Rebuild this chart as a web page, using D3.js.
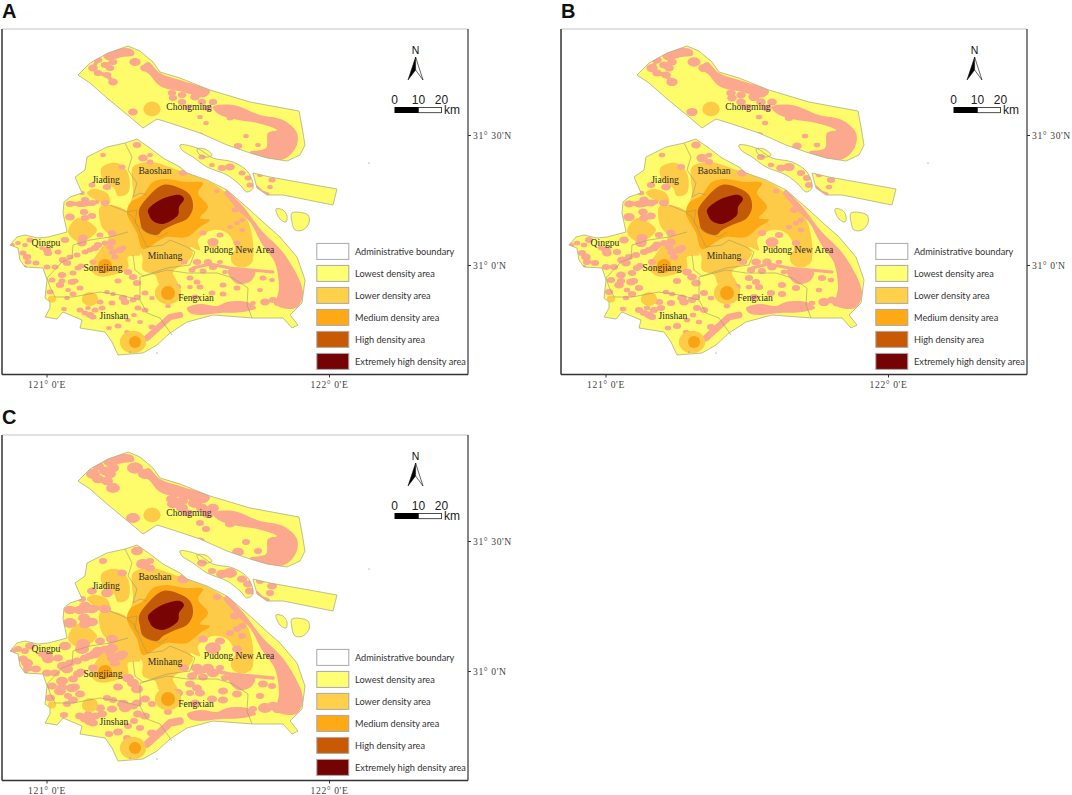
<!DOCTYPE html>
<html><head><meta charset="utf-8">
<script src="https://cdn.jsdelivr.net/npm/d3@7/dist/d3.min.js"></script>
<style>html,body{margin:0;padding:0;background:#fff}svg{display:block}</style>
</head><body><svg id="c" width="1072" height="795"></svg>
<script>
const panels=[{name:"A",dx:0,dy:0,grow:1.12},{name:"B",dx:559,dy:0,grow:1.3},{name:"C",dx:0,dy:406,grow:1.6}];
const legendItems=[["Administrative boundary","#ffffff"],["Lowest density area","#FFFF73"],["Lower density area","#FFD04A"],["Medium density area","#FFAA14"],["High density area","#C85A06"],["Extremely high density area","#750303"]];
const districtLabels=[["Chongming",189,107],["Baoshan",155,170.5],["Jiading",106,179.5],["Qingpu",46,243],["Songjiang",103,268],["Minhang",165,256],["Pudong New Area",239,250],["Fengxian",196,298],["Jinshan",114,316]];
const lonTicks=[121,122], latTicks=[31,31.5];
// land outlines, map units
const chongming=[[78,75],[90,63],[108,53],[128,46],[140,51],[153,62],[160,72],[180,78],[210,90],[250,102],[299,111],[302,127],[305,145],[300,155],[287,161],[267,158],[250,153],[227,145],[200,133],[173,124],[157,119],[143,128],[130,117],[107,98],[90,83]];
const mainland=[[125,143],[137,139],[150,148],[163,158],[180,167],[187,173],[207,180],[227,190],[250,210],[263,222],[280,237],[297,257],[305,280],[302,303],[290,315],[298,325],[292,328],[283,318],[253,318],[213,315],[187,322],[170,333],[157,345],[143,353],[118,355],[112,342],[105,332],[80,328],[82,320],[70,315],[63,312],[57,319],[45,317],[50,308],[50,302],[45,298],[47,280],[43,268],[25,267],[20,260],[18,248],[10,245],[17,237],[25,235],[38,238],[48,237],[67,232],[63,213],[64,202],[70,197],[82,193],[75,177],[85,170],[87,157],[107,147]];
const changxing=[[180,145],[197,148],[213,158],[233,162],[248,172],[253,188],[247,192],[240,185],[227,175],[207,167],[193,157],[182,150]];
const islet=[[197,149],[205,149],[212,155],[208,157],[200,155]];
const hengsha=[[253,173],[270,177],[337,189],[333,205],[313,201],[283,195],[267,195],[257,188]];
const shoalA=[[276,209],[283,210],[287,216],[286,222],[280,219]];
const shoalB=[[292,213],[308,215],[309,223],[303,230],[295,230],[292,222]];
const lands=[chongming,mainland,changxing,islet,hengsha,shoalA,shoalB];
// density zones
const lowerZones=[
[[133,167],[150,162],[183,172],[210,182],[225,192],[242,210],[250,227],[253,243],[252,260],[240,267],[232,262],[235,247],[227,233],[213,230],[198,240],[200,250],[190,247],[193,253],[187,262],[173,272],[178,285],[160,285],[155,275],[143,270],[142,255],[128,240],[130,205],[133,193],[132,180]],
[[102,167],[117,163],[128,173],[128,193],[118,196],[114,188],[105,182],[101,175]],
[[87,193],[93,189],[107,193],[110,203],[100,202]],
[[100,207],[110,205],[128,212],[135,232],[110,234],[102,227]],
[[90,268],[100,250],[108,240],[110,232],[128,232],[140,250],[140,255],[128,257],[128,268],[113,275],[98,276]],
[[68,232],[78,218],[97,230],[80,242]]];
const lowerSpots=[[152,109,8.5],[168,293,13],[133,342,13],[242,258,11],[90,299,8],[52,299,4],[213,244,5]];
const mediumZone=[[143,195],[153,182],[166,179],[185,182],[203,183],[198,193],[208,207],[200,218],[210,220],[200,227],[187,237],[167,237],[160,240],[143,249],[137,233],[127,213],[130,203],[140,197]];
const mediumSpots=[[105,266,7],[168,293,7],[135,342,6]];
const highZone=[[139,210],[147,198],[163,185],[177,187],[190,195],[193,207],[188,218],[173,225],[163,230],[157,235],[143,230],[140,220]];
const extremeZone=[[148,210],[160,200],[180,195],[184,199],[179,207],[178,215],[163,224],[153,221],[149,215]];
// scattered settlement patches (x,y,radius)
const patches=[[70,217,3.5],[84,212,3],[85,218,3],[92,216,3],[70,204,3],[80,204,3],[92,203,3],[105,203,3],[85,200,3],[65,240,3],[83,238,3.5],[82,243,3.5],[98,245,3],[105,243,2.5],[95,248,3],[100,235,2.5],[112,233,3],[30,240,2.5],[18,243,2],[12,245,2],[25,245,2],[47,250,3],[48,253,3],[42,248,2],[58,252,2.5],[23,253,2.5],[27,257,3],[28,262,2.5],[36,263,2.5],[24,267,2],[47,267,2.5],[55,267,2.5],[63,260,3],[67,263,3],[70,257,2.5],[77,255,2.5],[85,252,2.5],[90,250,2.5],[78,268,2.5],[81,266,2.5],[62,275,3],[73,273,2.5],[52,280,2.5],[60,285,3],[62,281,2.5],[72,282,3],[75,281,2.5],[68,290,2],[80,288,2.5],[50,292,2.5],[73,294,2.5],[67,298,2],[80,310,2.5],[64,309,2],[85,313,2.5],[90,315,3],[95,310,2.5],[102,308,2.5],[100,302,2.5],[93,317,2.5],[88,308,2],[112,303,2.5],[107,292,2],[113,294,2],[123,298,3],[125,302,3],[133,300,2.5],[118,281,2.5],[128,272,3],[133,277,3],[113,252,3],[120,250,3],[123,248,2.5],[115,257,2.5],[93,262,2.5],[109,328,2],[118,326,2.5],[127,332,2],[112,242,3],[110,247,2.5],[128,320,2],[140,322,2],[134,315,2],
[177,287,3],[173,292,2.5],[190,278,2.5],[197,282,2.5],[200,287,2.5],[190,287,2],[223,285,2.5],[223,294,2.5],[212,293,2.5],[237,288,2.5],[195,297,2.5],[263,278,2.5],[272,280,2],[260,290,2],[265,302,3.5],[253,303,2],[137,283,3],[137,297,2.5],[145,293,2.5],[152,298,2],[168,306,2],[138,308,2.5],[145,310,2.5],[152,327,2.5],[273,300,3],[278,303,3],[184,262,2.5],[192,270,2.5],[203,271,2.5],[213,267,3],[220,262,2],[225,272,2],
[213,242,4],[220,235,2.5],[203,233,2.5],[230,227,2],[237,223,2],[242,230,2],[242,220,2],[235,210,2.5],[217,191,2],[240,252,3],[237,243,2.5],[197,262,3],[208,262,3],
[135,62,4],[98,60,3],[93,68,3.5],[98,73,3],[105,65,3],[113,62,3],[107,75,3],[113,82,3.5],[110,68,3],[145,68,3.5],[133,112,3.5],[172,93,3],[173,98,3],[182,95,3],[182,102,3],[195,97,3.5],[202,102,3],[213,102,3],[188,107,2.5],[208,108,3],[200,117,2],[206,123,2],[200,135,2.5],[230,118,2.5],[238,146,3],[246,136,2],[258,145,2],[137,145,3],[143,158,3.5],[150,162,2.5],[150,155,2],[103,155,2],[122,167,2.5],[107,187,3],[92,185,2.5],[82,193,2],[183,173,3],
[202,157,2.5],[212,165,2],[222,168,3],[230,167,3.5],[242,173,2.5],[248,178,2.5],[250,185,2.5],[260,175,2],[272,180,2.5],[270,187,2]];
// ribbon-like patches (path, width)
const ribbons=[[[[70,203],[83,205],[97,202]],4],[[[193,268],[210,264],[230,268],[273,272]],2.8],[[[180,315],[170,317],[158,328],[147,338]],6],[[[227,193],[240,208]],5],[[[257,187],[262,192],[268,194]],3],[[[93,68],[98,73],[107,75],[113,82]],3.5],[[[98,60],[93,68]],3.5],[[[105,65],[113,62]],3]];
const pinkAreas=[
[[225,191],[240,203],[262,231],[285,255],[303,293],[296,308],[277,305],[279,287],[275,263],[262,244],[250,222],[236,208]],
[[213,107],[233,105],[260,115],[283,120],[297,133],[296,147],[284,159],[263,159],[250,152],[266,148],[268,133],[277,130],[257,123],[233,119],[217,113]],
[[148,62],[160,73],[183,81],[210,91],[205,97],[183,92],[160,86],[150,75],[142,68]],
[[103,55],[120,48],[133,50],[134,55],[123,57],[107,60]],
[[187,308],[200,304],[217,306],[227,302],[247,302],[256,308],[243,312],[220,313],[200,315],[190,313]],
[[228,270],[255,271],[251,281],[238,284],[230,277]]];
const districtLines=[
[[125,143],[132,157],[128,170],[137,183],[133,197],[140,193],[147,195]],
[[110,205],[127,212],[137,210],[135,223],[147,233],[160,237],[168,232]],
[[133,255],[135,270],[143,276],[167,268],[190,265],[195,252],[187,247],[170,240],[163,245],[147,247],[133,217],[127,213]],
[[55,297],[50,287],[47,278],[62,262],[72,258],[73,245],[90,240],[110,237],[128,232]],
[[55,297],[73,297],[100,292],[120,295],[140,300],[147,313],[160,318],[172,335]],
[[140,277],[167,270],[187,273],[217,273],[233,278],[248,288],[247,305],[252,318]],
[[140,277],[140,300]]];
const specks=[[369,163],[130,352],[157,353]];
const compassLeft=[[415.6,57],[415.6,70],[408,80]], compassRight=[[415.6,57],[423,80],[415.6,70]];
const scaleLabels=[["0",394.5],["10",418.5],["20",441.5]];

const svg=d3.select("#c");
const line=d3.line();
const round=d3.line().curve(d3.curveCatmullRomClosed.alpha(0.5));
panels.forEach((p,i)=>{
 const x=d3.scaleLinear().domain([0,470]).range([p.dx,p.dx+470]);
 const y=d3.scaleLinear().domain([0,400]).range([p.dy,p.dy+400]);
 const scr=pts=>pts.map(d=>[x(d[0]),y(d[1])]);
 const path=pts=>line(scr(pts))+"Z";
 const smooth=pts=>round(scr(pts));
 const open=pts=>line(scr(pts));
 const landPath=pts=>(pts===chongming||pts===mainland||pts===hengsha)?path(pts):smooth(pts);
 const g=svg.append("g");
 g.append("text").text(p.name).attr("x",x(2)).attr("y",y(18)).attr("font-family","Liberation Sans").attr("font-weight","bold").attr("font-size",20).attr("fill","#111");
 g.append("line").attr("x1",x(2)).attr("x2",x(468)).attr("y1",y(29)).attr("y2",y(29)).attr("stroke","#c4c4c4").attr("stroke-width",1.2);
 g.append("line").attr("x1",x(2)).attr("x2",x(2)).attr("y1",y(29)).attr("y2",y(374.5)).attr("stroke","#666").attr("stroke-width",2);
 g.append("line").attr("x1",x(468)).attr("x2",x(468)).attr("y1",y(29)).attr("y2",y(374.5)).attr("stroke","#444").attr("stroke-width",1.3);
 g.append("line").attr("x1",x(2)).attr("x2",x(468)).attr("y1",y(374.5)).attr("y2",y(374.5)).attr("stroke","#333").attr("stroke-width",1.3);
 const cid="land"+i;
 g.append("clipPath").attr("id",cid).selectAll("path").data(lands).join("path").attr("d",landPath);
 g.append("g").selectAll("path").data(lands).join("path").attr("d",landPath).attr("fill","#FEFC6B");
 const inner=g.append("g").attr("clip-path",`url(#${cid})`);
 inner.append("g").selectAll("path").data(lowerZones).join("path").attr("d",smooth).attr("fill","#FDCB48");
 inner.append("g").selectAll("ellipse").data(lowerSpots).join("ellipse").attr("cx",d=>x(d[0])).attr("cy",d=>y(d[1])).attr("rx",d=>d[2]).attr("ry",d=>d[2]*0.85).attr("fill","#FDCB48");
 const pink=inner.append("g").attr("fill","#FBA88F");
 pink.selectAll("path.a").data(pinkAreas).join("path").attr("class","a").attr("d",smooth);
 pink.selectAll("path.r").data(ribbons).join("path").attr("class","r").attr("d",d=>open(d[0])).attr("fill","none").attr("stroke","#FBA88F").attr("stroke-linecap","round").attr("stroke-linejoin","round").attr("stroke-width",d=>d[1]*Math.sqrt(p.grow));
 pink.selectAll("ellipse").data(patches).join("ellipse").attr("cx",d=>x(d[0])).attr("cy",d=>y(d[1])).attr("rx",d=>d[2]*p.grow*1.25).attr("ry",d=>d[2]*p.grow*0.9);
 inner.append("g").selectAll("ellipse").data(lowerSpots.slice(0,5)).join("ellipse").attr("cx",d=>x(d[0])).attr("cy",d=>y(d[1])).attr("rx",d=>d[2]).attr("ry",d=>d[2]*0.85).attr("fill","#FDCB48");
 inner.append("path").attr("d",smooth(mediumZone)).attr("fill","#FDA915");
 inner.append("g").selectAll("circle").data(mediumSpots).join("circle").attr("cx",d=>x(d[0])).attr("cy",d=>y(d[1])).attr("r",d=>d[2]).attr("fill","#FBA214");
 inner.append("path").attr("d",smooth(highZone)).attr("fill","#C35A07");
 inner.append("path").attr("d",smooth(extremeZone)).attr("fill","#780404");
 g.append("g").selectAll("path").data(districtLines).join("path").attr("d",open).attr("fill","none").attr("stroke","#a09a6a").attr("stroke-width",0.6);
 g.append("g").selectAll("path").data(lands).join("path").attr("d",landPath).attr("fill","none").attr("stroke","#aeae84").attr("stroke-width",0.8);
 g.append("g").selectAll("circle").data(specks).join("circle").attr("cx",d=>x(d[0])).attr("cy",d=>y(d[1])).attr("r",0.6).attr("fill","#777");
 g.append("g").selectAll("text").data(districtLabels).join("text").text(d=>d[0]).attr("x",d=>x(d[1])).attr("y",d=>y(d[2])+3).attr("text-anchor","middle").attr("font-family","Liberation Serif").attr("font-size",9.6).attr("fill","#2b2b2b");
 // compass and scale bar
 g.append("text").text("N").attr("x",x(415.6)).attr("y",y(54)).attr("text-anchor","middle").attr("font-family","Liberation Sans").attr("font-size",10.5).attr("fill","#111");
 g.append("path").attr("d",path(compassLeft)).attr("fill","#000").attr("stroke","#000").attr("stroke-width",.5);
 g.append("path").attr("d",path(compassRight)).attr("fill","#fff").attr("stroke","#000").attr("stroke-width",.6);
 g.append("rect").attr("x",x(394.5)).attr("y",y(107)).attr("width",24).attr("height",6).attr("fill","#000");
 g.append("rect").attr("x",x(418.5)).attr("y",y(107.5)).attr("width",23).attr("height",5.2).attr("fill","#fff").attr("stroke","#222").attr("stroke-width",.8);
 g.append("g").selectAll("text").data(scaleLabels).join("text").text(d=>d[0]).attr("x",d=>x(d[1])).attr("y",y(103.5)).attr("text-anchor","middle").attr("font-family","Liberation Sans").attr("font-size",12).attr("fill","#222");
 g.append("text").text("km").attr("x",x(444)).attr("y",y(114)).attr("font-family","Liberation Sans").attr("font-size",12).attr("fill","#222");
 // legend
 const lg=g.append("g").selectAll("g").data(legendItems).join("g");
 lg.append("rect").attr("x",x(316.8)).attr("y",(d,k)=>y(243.4+k*22)).attr("width",32).attr("height",16).attr("fill",d=>d[1]).attr("stroke","#a9a9a9").attr("stroke-width",1);
 lg.append("text").text(d=>d[0]).attr("x",x(355)).attr("y",(d,k)=>y(255+k*22)).attr("font-family","Lato").attr("font-size",9.2).attr("fill","#333");
 // graticule
 const lonS=d3.scaleLinear().domain([121,122]).range([x(46.5),x(329)]);
 const latS=d3.scaleLinear().domain([31,31.5]).range([y(265),y(135)]);
 const ax=g.append("g").attr("transform",`translate(0,${y(374.5)})`).call(d3.axisBottom(lonS).tickValues(lonTicks).tickSize(3).tickFormat(d=>d+"° 0'E"));
 const ay=g.append("g").attr("transform",`translate(${x(468)},0)`).call(d3.axisRight(latS).tickValues(latTicks).tickSize(3).tickFormat(d=>"31° "+(d===31?"0":"30")+"'N"));
 [ax,ay].forEach(a=>{a.select(".domain").remove();a.selectAll("line").attr("stroke","#333");
  a.selectAll("text").attr("font-family","Liberation Serif").attr("font-size",9.6).attr("letter-spacing","0.6").attr("fill","#444");});
 ax.selectAll("text").attr("dy","0.71em").attr("y",6.5);
 ay.selectAll("text").attr("x",5);
});
</script></body></html>
